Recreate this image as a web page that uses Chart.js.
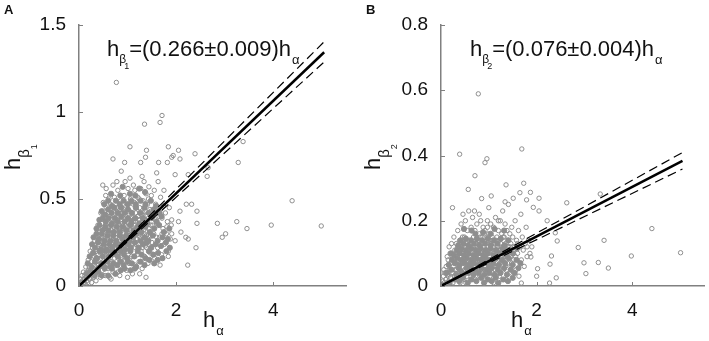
<!DOCTYPE html>
<html>
<head>
<meta charset="utf-8">
<script src="https://cdn.jsdelivr.net/npm/chart.js@4.4.0/dist/chart.umd.min.js"></script>
<style>
  body { margin: 0; background: #fff; }
  #wrap { position: relative; width: 709px; height: 341px; }
  canvas { position: absolute; top: 0; }
</style>
</head>
<body>
<div id="wrap">
  <canvas id="chartA" width="356" height="341" style="left:0"></canvas>
  <canvas id="chartB" width="353" height="341" style="left:356px"></canvas>
</div>
<script>
const FONT = '"Liberation Sans", Arial, sans-serif'

// Panel A data (h_alpha vs h_beta1)
const outliersA = [
  [0.77, 1.17], [1.71, 0.98], [1.67, 0.94], [1.35, 0.93], [1.05, 0.8], [1.39, 0.78], [1.84, 0.8],
  [2.05, 0.78], [1.94, 0.75], [1.91, 0.74], [1.37, 0.74], [0.7, 0.73], [0.94, 0.71], [1.27, 0.71],
  [1.64, 0.71], [1.82, 0.71], [2.08, 0.73], [2.39, 0.76], [3.38, 0.83], [3.28, 0.71], [2.64, 0.63],
  [2.66, 0.68], [0.87, 0.66], [1.98, 0.64], [2.25, 0.64], [0.49, 0.58], [0.56, 0.56], [4.39, 0.49],
  [2.21, 0.47], [2.32, 0.47], [2.08, 0.43], [1.91, 0.38], [2.43, 0.43], [2.85, 0.36], [3.25, 0.37],
  [3.46, 0.33], [3.96, 0.35], [4.99, 0.345], [2.43, 0.36], [2.05, 0.37], [3.02, 0.3], [2.95, 0.28],
  [2.1, 0.31], [2.25, 0.27], [2.2, 0.28], [1.98, 0.26], [2.41, 0.22], [2.24, 0.12], [1.84, 0.17],
  [1.91, 0.3], [1.81, 0.34], [1.71, 0.3]
]
const cloudA = [
  [0.02, 0.01], [0.04, 0.02], [0.05, 0.005], [0.07, 0.03], [0.08, 0.015], [0.1, 0.04], [0.11, 0.02],
  [0.12, 0.06], [0.13, 0.01], [0.15, 0.05], [0.16, 0.03], [0.17, 0.08], [0.18, 0.02], [0.2, 0.06],
  [0.21, 0.11], [0.22, 0.04], [0.24, 0.09], [0.25, 0.14], [0.26, 0.02], [0.27, 0.07], [0.29, 0.12],
  [0.3, 0.05], [0.31, 0.17], [0.06, 0.06], [0.09, 0.08], [0.14, 0.11], [0.19, 0.15], [0.23, 0.2],
  [0.28, 0.22], [0.03, 0.04],
  [0.33, 0.09], [0.34, 0.21], [0.35, 0.03], [0.36, 0.14], [0.37, 0.27], [0.38, 0.07], [0.4, 0.18],
  [0.41, 0.24], [0.42, 0.11], [0.43, 0.31], [0.44, 0.05], [0.45, 0.16], [0.46, 0.22], [0.47, 0.36],
  [0.48, 0.09], [0.49, 0.28], [0.5, 0.13], [0.51, 0.41], [0.52, 0.19], [0.53, 0.33], [0.54, 0.06],
  [0.55, 0.25], [0.56, 0.45], [0.57, 0.15], [0.58, 0.3], [0.59, 0.38], [0.6, 0.1], [0.39, 0.35],
  [0.32, 0.26], [0.45, 0.42], [0.5, 0.48], [0.55, 0.52],
  [0.61, 0.21], [0.62, 0.34], [0.63, 0.05], [0.64, 0.27], [0.65, 0.47], [0.66, 0.14], [0.67, 0.39],
  [0.68, 0.22], [0.69, 0.31], [0.7, 0.08], [0.71, 0.43], [0.72, 0.18], [0.73, 0.51], [0.74, 0.26],
  [0.75, 0.36], [0.76, 0.12], [0.77, 0.45], [0.78, 0.2], [0.79, 0.3], [0.8, 0.55], [0.81, 0.16],
  [0.82, 0.4], [0.83, 0.24], [0.84, 0.06], [0.85, 0.34], [0.86, 0.49], [0.87, 0.19], [0.88, 0.28],
  [0.89, 0.42], [0.9, 0.1], [0.62, 0.5], [0.7, 0.58], [0.78, 0.6], [0.66, 0.04], [0.8, 0.08],
  [0.91, 0.33], [0.92, 0.23], [0.93, 0.52], [0.94, 0.15], [0.95, 0.38], [0.96, 0.27], [0.97, 0.46],
  [0.98, 0.09], [0.99, 0.31], [1.0, 0.2], [1.01, 0.56], [1.02, 0.36], [1.03, 0.13], [1.04, 0.43],
  [1.05, 0.25], [1.06, 0.5], [1.07, 0.32], [1.08, 0.17], [1.09, 0.4], [1.1, 0.07], [1.11, 0.29],
  [1.12, 0.47], [1.13, 0.22], [1.14, 0.35], [1.15, 0.55], [1.16, 0.12], [1.17, 0.42], [1.18, 0.27],
  [1.19, 0.33], [1.2, 0.18], [0.95, 0.6], [1.05, 0.62], [1.12, 0.58], [1.0, 0.05],
  [1.21, 0.51], [1.22, 0.24], [1.23, 0.38], [1.24, 0.14], [1.25, 0.45], [1.26, 0.3], [1.27, 0.56],
  [1.28, 0.2], [1.29, 0.41], [1.3, 0.1], [1.31, 0.34], [1.32, 0.49], [1.33, 0.26], [1.34, 0.6],
  [1.35, 0.17], [1.36, 0.43], [1.37, 0.36], [1.38, 0.53], [1.39, 0.22], [1.4, 0.31], [1.41, 0.47],
  [1.42, 0.13], [1.43, 0.39], [1.44, 0.57], [1.45, 0.28], [1.46, 0.44], [1.47, 0.19], [1.48, 0.35],
  [1.49, 0.52], [1.5, 0.25], [1.3, 0.63], [1.25, 0.07], [1.38, 0.05],
  [1.52, 0.41], [1.54, 0.3], [1.55, 0.55], [1.56, 0.16], [1.58, 0.47], [1.6, 0.36], [1.62, 0.22],
  [1.63, 0.6], [1.64, 0.43], [1.66, 0.28], [1.68, 0.51], [1.7, 0.18], [1.71, 0.39], [1.73, 0.33],
  [1.74, 0.46], [1.76, 0.24], [1.78, 0.42], [1.8, 0.3], [1.82, 0.37], [1.84, 0.2], [1.86, 0.45],
  [1.88, 0.27], [1.9, 0.35], [1.6, 0.65], [1.67, 0.12], [1.75, 0.55],
  [0.35, 0.2], [0.42, 0.26], [0.48, 0.2], [0.52, 0.27], [0.58, 0.22], [0.63, 0.4], [0.68, 0.3],
  [0.72, 0.35], [0.75, 0.28], [0.79, 0.38], [0.83, 0.33], [0.86, 0.26], [0.9, 0.36], [0.93, 0.3],
  [0.96, 0.41], [1.0, 0.34], [1.03, 0.29], [1.06, 0.39], [1.09, 0.3], [1.12, 0.37], [1.15, 0.31],
  [1.18, 0.45], [1.22, 0.33], [1.25, 0.38], [1.28, 0.32], [1.32, 0.42], [1.35, 0.3], [1.4, 0.4],
  [1.44, 0.33], [1.48, 0.43], [0.4, 0.12], [0.46, 0.28], [0.55, 0.35], [0.6, 0.3], [0.65, 0.19],
  [0.7, 0.25], [0.74, 0.42], [0.8, 0.23], [0.85, 0.44], [0.88, 0.15], [0.92, 0.43], [0.97, 0.22],
  [1.02, 0.47], [1.05, 0.16], [1.1, 0.24], [1.14, 0.48], [1.2, 0.27], [1.24, 0.5], [1.3, 0.22],
  [1.34, 0.36], [1.38, 0.27], [1.43, 0.5], [1.47, 0.29], [1.52, 0.35], [1.57, 0.38], [1.6, 0.28],
  [1.65, 0.4], [0.3, 0.1], [0.25, 0.05], [0.2, 0.09], [0.38, 0.16], [0.44, 0.19], [0.5, 0.23],
  [0.56, 0.12], [0.62, 0.15], [0.67, 0.32], [0.73, 0.16], [0.77, 0.33], [0.82, 0.19], [0.87, 0.37],
  [0.91, 0.2], [0.95, 0.33], [0.99, 0.26], [1.04, 0.21], [1.08, 0.35], [1.13, 0.3], [1.17, 0.24],
  [1.21, 0.4], [1.26, 0.27], [1.31, 0.29], [1.36, 0.23], [1.41, 0.37], [1.46, 0.23]
]
// the thick core of panel A, read band by band (drawn as overlapping filled marks)
const coreA = [
  [0.15, 0.07], [0.22, 0.08], [0.32, 0.06], [0.4, 0.08], [0.47, 0.06], [0.53, 0.1], [0.6, 0.06],
  [0.68, 0.1], [0.75, 0.07], [0.86, 0.09], [0.94, 0.1], [1.06, 0.09], [1.15, 0.1],
  [0.18, 0.13], [0.26, 0.11], [0.33, 0.14], [0.39, 0.1], [0.46, 0.13], [0.52, 0.11], [0.59, 0.14],
  [0.64, 0.11], [0.71, 0.13], [0.79, 0.12], [0.85, 0.14], [0.92, 0.12], [1.01, 0.14], [1.09, 0.13],
  [1.18, 0.11], [1.27, 0.14], [1.35, 0.12], [1.45, 0.15], [1.55, 0.13], [1.62, 0.15],
  [0.22, 0.17], [0.29, 0.19], [0.36, 0.16], [0.43, 0.2], [0.49, 0.17], [0.55, 0.2], [0.61, 0.17],
  [0.67, 0.2], [0.74, 0.19], [0.8, 0.17], [0.86, 0.2], [0.93, 0.18], [0.99, 0.16], [1.06, 0.2],
  [1.14, 0.17], [1.21, 0.2], [1.29, 0.18], [1.37, 0.16], [1.44, 0.2], [1.53, 0.18], [1.63, 0.19],
  [1.72, 0.16], [1.8, 0.2],
  [0.27, 0.24], [0.33, 0.22], [0.39, 0.25], [0.45, 0.21], [0.51, 0.24], [0.57, 0.21], [0.63, 0.24],
  [0.69, 0.22], [0.76, 0.24], [0.82, 0.22], [0.88, 0.24], [0.95, 0.21], [1.01, 0.24], [1.07, 0.22],
  [1.15, 0.25], [1.23, 0.22], [1.32, 0.24], [1.39, 0.25], [1.49, 0.22], [1.58, 0.24], [1.69, 0.23],
  [1.79, 0.25], [1.87, 0.22],
  [0.3, 0.28], [0.36, 0.3], [0.41, 0.27], [0.47, 0.3], [0.53, 0.26], [0.59, 0.29], [0.65, 0.26],
  [0.71, 0.29], [0.77, 0.26], [0.84, 0.29], [0.9, 0.27], [0.97, 0.29], [1.04, 0.26], [1.11, 0.28],
  [1.19, 0.3], [1.27, 0.26], [1.35, 0.28], [1.43, 0.26], [1.52, 0.29], [1.62, 0.26], [1.72, 0.28],
  [1.83, 0.27],
  [0.36, 0.33], [0.42, 0.35], [0.48, 0.32], [0.54, 0.34], [0.6, 0.32], [0.66, 0.35], [0.72, 0.31],
  [0.78, 0.34], [0.84, 0.31], [0.9, 0.34], [0.98, 0.32], [1.05, 0.35], [1.12, 0.32], [1.2, 0.34],
  [1.28, 0.31], [1.37, 0.34], [1.46, 0.31], [1.55, 0.33], [1.65, 0.35], [1.75, 0.31], [1.86, 0.33],
  [0.42, 0.38], [0.49, 0.39], [0.55, 0.37], [0.61, 0.39], [0.68, 0.36], [0.74, 0.39], [0.8, 0.37],
  [0.87, 0.4], [0.94, 0.37], [1.01, 0.39], [1.08, 0.37], [1.16, 0.39], [1.24, 0.36], [1.32, 0.39],
  [1.41, 0.36], [1.5, 0.39], [1.6, 0.37], [1.7, 0.4],
  [0.47, 0.43], [0.54, 0.41], [0.6, 0.44], [0.67, 0.42], [0.73, 0.45], [0.8, 0.42], [0.87, 0.45],
  [0.94, 0.42], [1.01, 0.44], [1.09, 0.42], [1.17, 0.45], [1.26, 0.42], [1.35, 0.45], [1.44, 0.42],
  [1.54, 0.44], [1.66, 0.42],
  [0.52, 0.47], [0.6, 0.49], [0.68, 0.46], [0.76, 0.49], [0.84, 0.47], [0.92, 0.49], [1.0, 0.47],
  [1.08, 0.49], [1.17, 0.47], [1.27, 0.49], [1.37, 0.47], [1.48, 0.49], [1.59, 0.46],
  [0.66, 0.53], [0.85, 0.52], [1.05, 0.53], [1.16, 0.52], [1.24, 0.56], [1.36, 0.54], [0.9, 0.57]
]
// fitted slope with the bounds of the dashed band
const slopesA = [0.266, 0.278, 0.255]
const yTicksA = [0, 0.5, 1, 1.5]

// Panel B data (h_alpha vs h_beta2)
const outliersB = [
  [0.78, 0.589], [1.69, 0.42], [0.39, 0.404], [0.96, 0.39], [0.92, 0.378], [0.71, 0.338], [1.73, 0.315],
  [1.36, 0.31], [0.57, 0.296], [1.65, 0.286], [1.87, 0.287], [1.05, 0.276], [0.85, 0.268], [2.05, 0.269],
  [1.79, 0.264], [1.93, 0.241], [2.05, 0.23], [2.63, 0.255], [3.33, 0.282], [0.24, 0.24], [1.51, 0.269],
  [1.34, 0.258], [2.22, 0.2], [2.39, 0.163], [2.43, 0.138], [2.87, 0.118], [3.41, 0.14], [4.41, 0.176],
  [3.98, 0.092], [5.01, 0.102], [2.99, 0.071], [3.29, 0.072], [3.5, 0.055], [3.03, 0.038], [2.28, 0.067],
  [2.31, 0.092], [2.41, 0.025], [2.27, 0.009], [1.68, 0.009], [2.0, 0.03], [2.02, 0.053], [1.88, 0.089],
  [1.8, 0.12]
]
const cloudB = [
  [0.02, 0.005], [0.04, 0.015], [0.05, 0.03], [0.07, 0.01], [0.08, 0.04], [0.1, 0.02], [0.11, 0.06],
  [0.12, 0.005], [0.14, 0.035], [0.15, 0.08], [0.16, 0.015], [0.18, 0.05], [0.19, 0.1], [0.2, 0.025],
  [0.21, 0.07], [0.22, 0.13], [0.23, 0.04], [0.24, 0.09], [0.25, 0.01], [0.26, 0.06], [0.27, 0.15],
  [0.28, 0.03], [0.29, 0.11], [0.3, 0.07], [0.06, 0.05], [0.13, 0.09], [0.17, 0.12],
  [0.31, 0.02], [0.32, 0.13], [0.33, 0.05], [0.34, 0.09], [0.35, 0.17], [0.36, 0.03], [0.37, 0.11],
  [0.38, 0.06], [0.39, 0.14], [0.4, 0.01], [0.41, 0.08], [0.42, 0.19], [0.43, 0.04], [0.44, 0.12],
  [0.45, 0.07], [0.46, 0.22], [0.47, 0.1], [0.48, 0.02], [0.49, 0.15], [0.5, 0.05], [0.51, 0.2],
  [0.52, 0.09], [0.53, 0.13], [0.54, 0.03], [0.55, 0.17], [0.56, 0.07], [0.57, 0.11], [0.58, 0.23],
  [0.59, 0.05], [0.6, 0.14], [0.45, 0.15], [0.52, 0.01],
  [0.61, 0.09], [0.62, 0.02], [0.63, 0.18], [0.64, 0.06], [0.65, 0.12], [0.66, 0.21], [0.67, 0.04],
  [0.68, 0.15], [0.69, 0.08], [0.7, 0.11], [0.71, 0.17], [0.72, 0.02], [0.73, 0.13], [0.74, 0.07],
  [0.75, 0.19], [0.76, 0.1], [0.77, 0.05], [0.78, 0.14], [0.79, 0.08], [0.8, 0.16], [0.81, 0.03],
  [0.82, 0.12], [0.83, 0.2], [0.84, 0.06], [0.85, 0.1], [0.86, 0.15], [0.87, 0.04], [0.88, 0.18],
  [0.89, 0.09], [0.9, 0.13], [0.7, 0.23], [0.8, 0.22],
  [0.91, 0.06], [0.92, 0.17], [0.93, 0.1], [0.94, 0.02], [0.95, 0.14], [0.96, 0.08], [0.97, 0.2],
  [0.98, 0.12], [0.99, 0.05], [1.0, 0.16], [1.01, 0.09], [1.02, 0.03], [1.03, 0.13], [1.04, 0.19],
  [1.05, 0.07], [1.06, 0.11], [1.07, 0.15], [1.08, 0.04], [1.09, 0.1], [1.1, 0.18], [1.11, 0.06],
  [1.12, 0.13], [1.13, 0.08], [1.14, 0.21], [1.15, 0.11], [1.16, 0.03], [1.17, 0.15], [1.18, 0.09],
  [1.19, 0.12], [1.2, 0.17], [1.0, 0.24], [1.1, 0.01],
  [1.21, 0.06], [1.22, 0.14], [1.23, 0.1], [1.24, 0.2], [1.25, 0.04], [1.26, 0.12], [1.27, 0.16],
  [1.28, 0.08], [1.29, 0.23], [1.3, 0.11], [1.31, 0.05], [1.32, 0.15], [1.33, 0.09], [1.34, 0.19],
  [1.35, 0.13], [1.36, 0.02], [1.37, 0.1], [1.38, 0.17], [1.39, 0.07], [1.4, 0.14], [1.41, 0.25],
  [1.42, 0.11], [1.43, 0.04], [1.44, 0.16], [1.45, 0.09], [1.46, 0.13], [1.47, 0.06], [1.48, 0.18],
  [1.49, 0.1], [1.5, 0.15],
  [1.52, 0.08], [1.54, 0.12], [1.55, 0.2], [1.57, 0.05], [1.58, 0.14], [1.6, 0.1], [1.62, 0.17],
  [1.63, 0.03], [1.65, 0.12], [1.67, 0.22], [1.68, 0.08], [1.7, 0.15], [1.72, 0.11], [1.74, 0.06],
  [1.76, 0.13], [1.78, 0.18], [1.8, 0.09], [1.83, 0.14], [1.86, 0.1], [1.9, 0.12],
  [0.3, 0.05], [0.35, 0.08], [0.4, 0.05], [0.45, 0.1], [0.5, 0.08], [0.55, 0.1], [0.6, 0.07],
  [0.65, 0.09], [0.7, 0.06], [0.72, 0.09], [0.75, 0.13], [0.78, 0.06], [0.8, 0.11], [0.83, 0.08],
  [0.85, 0.13], [0.88, 0.07], [0.9, 0.1], [0.92, 0.05], [0.95, 0.11], [0.97, 0.07], [1.0, 0.12],
  [1.02, 0.08], [1.05, 0.13], [1.07, 0.06], [1.1, 0.12], [1.12, 0.09], [1.15, 0.14], [1.18, 0.06],
  [1.2, 0.1], [1.23, 0.07], [1.25, 0.13], [1.28, 0.11], [1.3, 0.08], [1.33, 0.12], [1.36, 0.1],
  [1.4, 0.09], [1.44, 0.12], [1.48, 0.07], [1.52, 0.11], [1.56, 0.09], [1.6, 0.13], [0.5, 0.12],
  [0.55, 0.05], [0.6, 0.11], [0.65, 0.04], [0.68, 0.12], [0.73, 0.04], [0.77, 0.1], [0.82, 0.15],
  [0.86, 0.05], [0.9, 0.16], [0.94, 0.08], [0.98, 0.15], [1.03, 0.05], [1.08, 0.14], [1.13, 0.05],
  [1.17, 0.12], [1.22, 0.03], [1.26, 0.09], [1.3, 0.15], [1.35, 0.06], [1.4, 0.12], [1.45, 0.05],
  [1.5, 0.12], [0.25, 0.04], [0.2, 0.05], [0.15, 0.03], [0.1, 0.04], [0.35, 0.12], [0.4, 0.1],
  [0.45, 0.04], [0.62, 0.13], [0.97, 0.18], [1.2, 0.2]
]
const coreB = [
  [0.18, 0.01], [0.28, 0.02], [0.38, 0.015], [0.46, 0.025], [0.56, 0.01], [0.64, 0.02], [0.74, 0.015],
  [0.84, 0.025], [0.9, 0.01], [0.98, 0.02], [1.06, 0.015], [1.14, 0.025], [1.2, 0.01], [1.3, 0.02],
  [1.4, 0.015], [1.5, 0.025],
  [0.12, 0.04], [0.22, 0.05], [0.32, 0.035], [0.37, 0.055], [0.42, 0.045], [0.48, 0.035], [0.53, 0.055],
  [0.58, 0.04], [0.63, 0.055], [0.68, 0.035], [0.73, 0.05], [0.79, 0.04], [0.85, 0.055], [0.91, 0.035],
  [0.96, 0.05], [1.01, 0.04], [1.06, 0.055], [1.12, 0.035], [1.19, 0.05], [1.24, 0.04], [1.32, 0.055],
  [1.38, 0.035], [1.46, 0.05], [1.54, 0.04], [1.62, 0.055],
  [0.16, 0.065], [0.23, 0.08], [0.29, 0.07], [0.34, 0.085], [0.39, 0.065], [0.44, 0.08], [0.49, 0.07],
  [0.54, 0.085], [0.59, 0.065], [0.64, 0.08], [0.69, 0.07], [0.74, 0.085], [0.79, 0.065], [0.84, 0.08],
  [0.89, 0.07], [0.94, 0.085], [0.99, 0.065], [1.04, 0.08], [1.09, 0.07], [1.15, 0.085], [1.21, 0.065],
  [1.27, 0.08], [1.34, 0.07], [1.42, 0.085], [1.5, 0.065], [1.58, 0.08], [1.66, 0.07],
  [0.21, 0.1], [0.27, 0.095], [0.33, 0.11], [0.38, 0.1], [0.43, 0.115], [0.48, 0.095], [0.53, 0.11],
  [0.58, 0.1], [0.63, 0.115], [0.68, 0.095], [0.73, 0.11], [0.78, 0.1], [0.83, 0.115], [0.88, 0.095],
  [0.93, 0.11], [0.98, 0.1], [1.04, 0.115], [1.1, 0.095], [1.16, 0.11], [1.22, 0.1], [1.29, 0.115],
  [1.36, 0.095], [1.43, 0.11], [1.51, 0.1], [1.59, 0.115],
  [0.36, 0.125], [0.41, 0.14], [0.47, 0.13], [0.52, 0.145], [0.57, 0.125], [0.63, 0.14],
  [0.69, 0.13], [0.75, 0.145], [0.8, 0.125], [0.86, 0.14], [0.92, 0.13], [0.98, 0.145], [1.04, 0.125],
  [1.11, 0.14], [1.18, 0.13], [1.25, 0.145], [1.33, 0.125], [1.41, 0.14],
  [0.48, 0.175], [0.64, 0.17], [0.72, 0.16], [0.88, 0.165], [1.04, 0.16], [1.12, 0.175], [1.32, 0.17]
]
const slopesB = [0.076, 0.081, 0.071]
const yTicksB = [0, 0.2, 0.4, 0.6, 0.8]

// shared x axis
const xTicks = [0, 2, 4]
const xMax = 5.5
const fitEnd = 5.05

const DOT = "#8e8e8e"

// draw a run of text pieces, each with its own size and baseline shift
function drawParts(ctx, x, y, parts) {
  parts.forEach((p) => {
    ctx.font = `${p.size}px ${FONT}`
    ctx.fillText(p.text, x + (p.dx || 0), y + (p.dy || 0))
    x += ctx.measureText(p.text).width + (p.dx || 0)
  })
}

// inward tick marks, panel letter, equation and axis titles
const decorPlugin = {
  id: "decor",
  afterDraw(chart, args, opts) {
    const ctx = chart.ctx
    const xs = chart.scales.x
    const ys = chart.scales.y
    ctx.save()
    ctx.strokeStyle = "#808080"
    ctx.lineWidth = 1
    xs.ticks.forEach((t) => {
      const px = Math.round(xs.getPixelForValue(t.value)) + 0.5
      ctx.beginPath()
      ctx.moveTo(px, ys.bottom)
      ctx.lineTo(px, ys.bottom - 4)
      ctx.stroke()
    })
    ys.ticks.forEach((t) => {
      const py = Math.round(ys.getPixelForValue(t.value)) + 0.5
      ctx.beginPath()
      ctx.moveTo(xs.left, py)
      ctx.lineTo(xs.left + 4, py)
      ctx.stroke()
    })

    ctx.fillStyle = "#111"
    ctx.textBaseline = "alphabetic"
    ctx.font = `bold 13px ${FONT}`
    ctx.fillText(opts.letter, opts.letterX, 14)

    drawParts(ctx, opts.eqX, 56, [
      { text: "h", size: 22 },
      { text: "β", size: 12, dy: 7 },
      { text: opts.sub, size: 9, dy: 13, dx: -2 },
      { text: opts.eqText, size: 22, dx: 0 },
      { text: "α", size: 13, dy: 8, dx: 1 },
    ])

    drawParts(ctx, opts.xLabelX, 327, [
      { text: "h", size: 22 },
      { text: "α", size: 13, dy: 8, dx: 1 },
    ])

    ctx.translate(opts.yLabelX, 170)
    ctx.rotate(-Math.PI / 2)
    drawParts(ctx, 0, 0, [
      { text: "h", size: 22 },
      { text: "β", size: 15, dy: 9 },
      { text: opts.sub, size: 9, dy: 17 },
    ])
    ctx.restore()
  },
}

function makeChart(id, cloud, core, outliers, slopes, yTicks, axisLeft, padRight, decor) {
  const toXY = (arr) => arr.map((p) => ({ x: p[0], y: p[1] }))
  const fitLine = (s) => [0, fitEnd].map((x) => ({ x: x, y: s * x }))
  const yMax = yTicks[yTicks.length - 1]
  const bandLine = (s) => ({
    data: fitLine(s),
    showLine: true,
    borderColor: "#000",
    borderWidth: 1.2,
    borderDash: [9, 5],
    pointRadius: 0,
    order: 1,
  })

  return new Chart(document.getElementById(id), {
    type: "scatter",
    data: {
      datasets: [
        {
          data: fitLine(slopes[0]),
          showLine: true,
          borderColor: "#000",
          borderWidth: 2.5,
          pointRadius: 0,
          order: 0,
        },
        bandLine(slopes[1]),
        bandLine(slopes[2]),
        {
          data: toXY(cloud.concat(outliers)),
          pointStyle: "circle",
          pointRadius: 2.2,
          borderWidth: 1,
          borderColor: DOT,
          backgroundColor: "rgba(0,0,0,0)",
          order: 2,
        },
        {
          // the crowded middle reads as solid grey in the figure
          data: toXY(core),
          pointStyle: "circle",
          pointRadius: 2.6,
          borderWidth: 1,
          borderColor: DOT,
          backgroundColor: DOT,
          order: 3,
        },
      ],
    },
    options: {
      responsive: false,
      animation: false,
      devicePixelRatio: 1,
      events: [],
      layout: { padding: { left: 0, right: padRight, top: 25, bottom: 0 } },
      plugins: { legend: { display: false }, tooltip: { enabled: false }, decor: decor },
      scales: {
        x: {
          type: "linear",
          min: 0,
          max: xMax,
          afterBuildTicks: (scale) => {
            scale.ticks = xTicks.map((v) => ({ value: v }))
          },
          afterFit: (scale) => {
            scale.height = 55
          },
          grid: { display: false },
          border: { display: true, color: "#808080", width: 1.5 },
          ticks: {
            padding: 5,
            color: "#111",
            font: { family: FONT, size: 19 },
            callback: (v) => String(v),
          },
        },
        y: {
          type: "linear",
          min: 0,
          max: yMax,
          afterBuildTicks: (scale) => {
            scale.ticks = yTicks.map((v) => ({ value: v }))
          },
          afterFit: (scale) => {
            scale.width = axisLeft
          },
          grid: { display: false },
          border: { display: true, color: "#808080", width: 1.5 },
          ticks: {
            padding: 5,
            color: "#111",
            font: { family: FONT, size: 19 },
            callback: (v) => String(v),
          },
        },
      },
    },
    plugins: [decorPlugin],
  })
}

makeChart("chartA", cloudA, coreA, outliersA, slopesA, yTicksA, 79, 10, {
  letter: "A", letterX: 4, sub: "1", eqX: 107, eqText: "=(0.266±0.009)h", xLabelX: 203, yLabelX: 20,
})
makeChart("chartB", cloudB, coreB, outliersB, slopesB, yTicksB, 85, 1, {
  letter: "B", letterX: 10, sub: "2", eqX: 114, eqText: "=(0.076±0.004)h", xLabelX: 155, yLabelX: 24,
})
</script>
</body>
</html>
